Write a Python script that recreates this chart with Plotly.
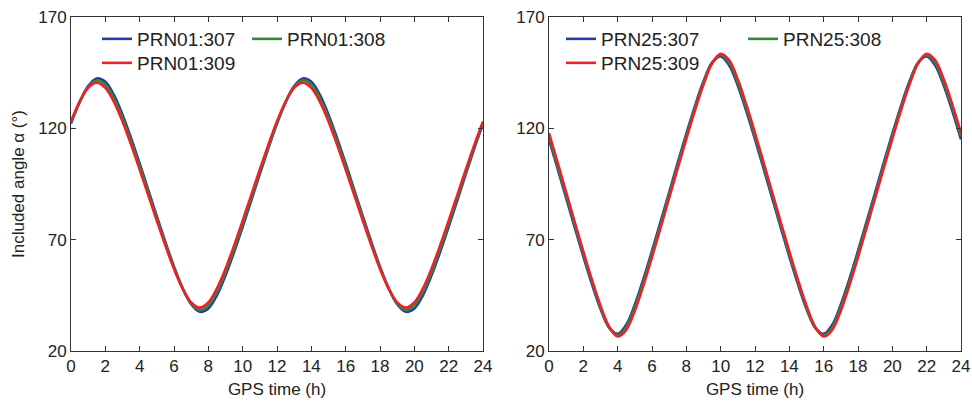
import plotly.graph_objects as go

hours = [0, 0.5, 1, 1.5, 2, 2.5, 3, 3.5, 4, 4.5, 5, 5.5, 6, 6.5, 7, 7.5, 8, 8.5, 9, 9.5,
         10, 10.5, 11, 11.5, 12, 12.5, 13, 13.5, 14, 14.5, 15, 15.5, 16, 16.5, 17, 17.5,
         18, 18.5, 19, 19.5, 20, 20.5, 21, 21.5, 22, 22.5, 23, 23.5, 24]

prn01_307 = [122.1, 131.7, 139.0, 142.4, 140.9, 135.0, 126.1, 115.6, 104.2, 92.4, 80.5, 68.9,
             57.9, 48.3, 41.0, 37.6, 39.1, 45.0, 53.9, 64.4, 75.8, 87.6, 99.5, 111.1, 122.1,
             131.7, 139.0, 142.4, 140.9, 135.0, 126.1, 115.6, 104.2, 92.4, 80.5, 68.9,
             57.9, 48.3, 41.0, 37.6, 39.1, 45.0, 53.9, 64.4, 75.8, 87.6, 99.5, 111.1, 122.1]
prn01_308 = [122.6, 131.8, 138.6, 141.5, 139.6, 133.5, 124.6, 114.1, 102.8, 91.2, 79.5, 68.1,
             57.4, 48.2, 41.4, 38.5, 40.5, 46.6, 55.4, 65.9, 77.2, 88.8, 100.5, 111.9, 122.6,
             131.8, 138.6, 141.5, 139.6, 133.5, 124.6, 114.1, 102.8, 91.2, 79.5, 68.1,
             57.4, 48.2, 41.4, 38.5, 40.5, 46.6, 55.4, 65.9, 77.2, 88.8, 100.5, 111.9, 122.6]
prn01_309 = [123.1, 131.9, 138.2, 140.5, 138.2, 131.9, 123.1, 112.7, 101.5, 90.0, 78.5, 67.3,
             56.9, 48.1, 41.8, 39.5, 41.8, 48.1, 56.9, 67.3, 78.5, 90.0, 101.5, 112.7, 123.1,
             131.9, 138.2, 140.5, 138.2, 131.9, 123.1, 112.7, 101.5, 90.0, 78.5, 67.3,
             56.9, 48.1, 41.8, 39.5, 41.8, 48.1, 56.9, 67.3, 78.5, 90.0, 101.5, 112.7, 123.1]

prn25_307 = [115.0, 101.9, 88.7, 75.4, 62.4, 50.0, 38.9, 30.5, 27.7, 31.8, 40.9, 52.4,
             65.0, 78.1, 91.3, 104.6, 117.6, 130.0, 141.1, 149.5, 152.3, 148.2, 139.1, 127.6, 115.0,
             101.9, 88.7, 75.4, 62.4, 50.0, 38.9, 30.5, 27.7, 31.8, 40.9, 52.4,
             65.0, 78.1, 91.3, 104.6, 117.6, 130.0, 141.1, 149.5, 152.3, 148.2, 139.1, 127.6, 115.0]
prn25_308 = [116.5, 103.3, 90.0, 76.7, 63.6, 51.0, 39.5, 30.6, 27.0, 30.6, 39.5, 51.0,
             63.6, 76.7, 90.0, 103.3, 116.5, 129.1, 140.5, 149.4, 153.0, 149.4, 140.5, 129.1, 116.5,
             103.3, 90.0, 76.7, 63.6, 51.0, 39.5, 30.6, 27.0, 30.6, 39.5, 51.0,
             63.6, 76.7, 90.0, 103.3, 116.5, 129.1, 140.5, 149.4, 153.0, 149.4, 140.5, 129.1, 116.5]
prn25_309 = [117.9, 104.7, 91.3, 77.9, 64.7, 52.0, 40.3, 30.9, 26.5, 29.5, 38.1, 49.5,
             62.1, 75.3, 88.7, 102.1, 115.3, 128.0, 139.7, 149.1, 153.5, 150.5, 141.9, 130.5, 117.9,
             104.7, 91.3, 77.9, 64.7, 52.0, 40.3, 30.9, 26.5, 29.5, 38.1, 49.5,
             62.1, 75.3, 88.7, 102.1, 115.3, 128.0, 139.7, 149.1, 153.5, 150.5, 141.9, 130.5, 117.9]

x_ticks = [0, 2, 4, 6, 8, 10, 12, 14, 16, 18, 20, 22, 24]
y_ticks = [20, 70, 120, 170]

COL_B = "#2b3c9e"
COL_G = "#2f8a34"
COL_R = "#e8232b"
FONT = "Liberation Sans, Arial, sans-serif"
TXT = "#222222"

fig = go.Figure()

def add(y, name, color, xa, ya, legend):
    fig.add_trace(go.Scatter(
        x=hours, y=y, name=name, mode="lines",
        line=dict(color=color, width=2.6, shape="spline", smoothing=1.0),
        xaxis=xa, yaxis=ya, legend=legend))

add(prn01_307, "PRN01:307", COL_B, "x", "y", "legend")
add(prn01_308, "PRN01:308", COL_G, "x", "y", "legend2")
add(prn01_309, "PRN01:309", COL_R, "x", "y", "legend3")
add(prn25_307, "PRN25:307", COL_B, "x2", "y2", "legend4")
add(prn25_308, "PRN25:308", COL_G, "x2", "y2", "legend5")
add(prn25_309, "PRN25:309", COL_R, "x2", "y2", "legend6")

W, H = 972, 405
ytop = 1 - 17 / H
ybot = 1 - 351 / H

axis_common = dict(
    showline=True, linecolor="#333333", linewidth=1, mirror="ticks",
    ticks="inside", ticklen=5, tickcolor="#333333", tickwidth=1,
    showgrid=False, zeroline=False, automargin=False,
    tickfont=dict(family=FONT, size=17, color=TXT),
)

xa = dict(axis_common, range=[0, 24], tickvals=x_ticks,
          title=dict(text="GPS time (h)", font=dict(family=FONT, size=17, color=TXT), standoff=7))
ya = dict(axis_common, range=[20, 170], tickvals=y_ticks)

leg_common = dict(
    font=dict(family=FONT, size=19, color=TXT),
    bgcolor="rgba(0,0,0,0)", borderwidth=0,
    xanchor="left", yanchor="top", tracegroupgap=0,
    itemwidth=30,
)

row1 = 1 - 20 / H
row2 = 1 - 44 / H

fig.update_layout(
    width=W, height=H,
    margin=dict(l=0, r=0, t=0, b=0),
    paper_bgcolor="white", plot_bgcolor="white",
    xaxis=dict(xa, domain=[71 / W, 483 / W], anchor="y"),
    yaxis=dict(ya, domain=[ybot, ytop], anchor="x",
               title=dict(text="Included angle α (°)", font=dict(family=FONT, size=17, color=TXT), standoff=9)),
    xaxis2=dict(xa, domain=[549 / W, 961 / W], anchor="y2"),
    yaxis2=dict(ya, domain=[ybot, ytop], anchor="x2"),
    legend=dict(leg_common, x=97 / W, y=row1),
    legend2=dict(leg_common, x=247 / W, y=row1),
    legend3=dict(leg_common, x=97 / W, y=row2),
    legend4=dict(leg_common, x=561 / W, y=row1),
    legend5=dict(leg_common, x=743 / W, y=row1),
    legend6=dict(leg_common, x=561 / W, y=row2),
    showlegend=True,
)

fig.write_html("out.html", config={"displayModeBar": False},
               post_script="document.body.style.margin='0';")
